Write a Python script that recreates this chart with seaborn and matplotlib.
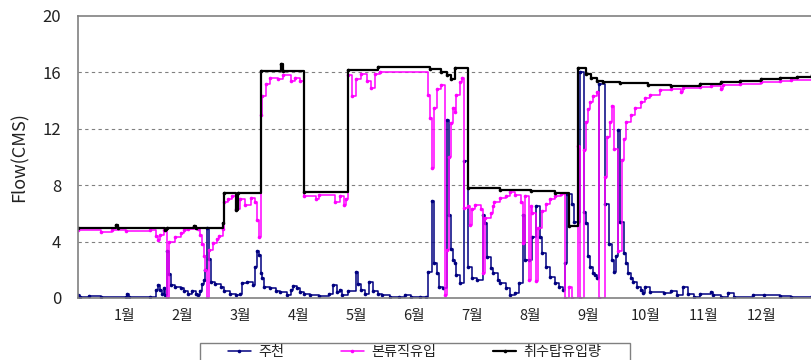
import matplotlib
matplotlib.use("Agg")
import matplotlib.pyplot as plt
from matplotlib.patches import Rectangle
import seaborn as sns
import pandas as pd

# ---------------- data (day index, flow in CMS) ----------------
month_labels = ["1월", "2월", "3월", "4월", "5월", "6월", "7월", "8월", "9월", "10월", "11월", "12월"]
series_names = ["주천", "본류직유입", "취수탑유입량"]

jucheon_days = [0, 1, 6, 12, 25, 26, 27, 38, 41, 42, 43, 44, 45, 46, 47, 48, 49, 51, 54, 56, 58, 60, 62, 63,
                64, 65, 66, 67, 68, 69, 70, 72, 75, 77, 80, 83, 85, 86, 89, 92, 93, 94, 95, 96, 97, 98, 101,
                104, 106, 110, 112, 113, 115, 117, 119, 122, 127, 132, 134, 136, 138, 139, 142, 146, 147, 149,
                151, 153, 155, 158, 160, 164, 169, 172, 175, 180, 183, 184, 186, 187, 189, 190, 192, 194, 195,
                196, 197, 198, 199, 201, 203, 205, 207, 210, 213, 214, 215, 217, 218, 221, 222, 225, 227, 230,
                232, 234, 235, 237, 239, 241, 243, 244, 246, 248, 251, 253, 255, 256, 257, 260, 261, 263, 264,
                266, 267, 268, 269, 271, 272, 273, 274, 277, 279, 281, 282, 283, 284, 285, 287, 288, 289, 291,
                292, 294, 296, 297, 298, 301, 308, 312, 315, 318, 321, 324, 327, 333, 334, 338, 342, 345, 355,
                361, 369, 375, 386]
jucheon_vals = [0.2, 0.1, 0.15, 0.05, 0.1, 0.25, 0.05, 0.1, 0.6, 0.9, 0.6, 0.3, 0.7, 0.2, 3.3, 1.7, 0.9, 0.8,
                0.7, 0.5, 0.3, 0.5, 0.3, 0.2, 0.5, 1.0, 1.3, 2.0, 5.0, 2.8, 1.15, 1.0, 0.8, 0.5, 0.3, 0.2, 0.3,
                1.05, 1.1, 0.9, 2.2, 3.3, 3.05, 1.75, 1.4, 0.8, 0.7, 0.5, 0.4, 0.2, 0.6, 0.85, 0.7, 0.4, 0.25,
                0.2, 0.15, 0.3, 0.9, 0.4, 0.6, 0.2, 0.5, 1.85, 1.0, 0.6, 0.3, 1.1, 0.5, 0.3, 0.2, 0.1, 0.05,
                0.2, 0.1, 0.05, 0.1, 1.85, 6.9, 2.5, 1.8, 0.8, 0.7, 12.6, 5.9, 3.5, 2.7, 2.5, 1.6, 1.05, 9.7,
                2.2, 1.4, 1.3, 5.9, 5.3, 2.9, 2.1, 1.8, 1.3, 1.05, 0.7, 0.2, 0.35, 1.05, 5.9, 2.7, 2.7, 4.3,
                6.5, 4.3, 3.2, 2.2, 1.5, 1.05, 0.8, 0.55, 2.5, 7.4, 6.7, 5.4, 5.4, 16.0, 6.1, 5.3, 3.0, 2.2,
                1.8, 1.6, 1.4, 15.2, 6.7, 3.8, 2.7, 1.85, 3.0, 11.9, 5.4, 3.2, 2.5, 1.8, 1.4, 1.1, 0.8, 0.55,
                0.35, 0.8, 0.4, 0.35, 0.5, 0.2, 0.8, 0.3, 0.1, 0.3, 0.4, 0.2, 0.1, 0.35, 0.1, 0.2, 0.2, 0.15,
                0.1, 0.15]

bonryu_days = [0, 12, 18, 25, 38, 41, 42, 43, 45, 46, 47, 48, 51, 54, 56, 58, 63, 64, 65, 66, 67, 68, 69, 71,
               73, 74, 76, 77, 79, 81, 83, 85, 88, 91, 93, 94, 95, 96, 97, 99, 101, 105, 108, 112, 114, 117,
               119, 125, 127, 135, 138, 140, 141, 142, 144, 146, 149, 152, 154, 156, 159, 184, 185, 186, 187,
               189, 191, 193, 194, 195, 196, 197, 198, 199, 201, 202, 203, 205, 206, 207, 209, 212, 213, 214,
               217, 218, 219, 222, 225, 227, 230, 233, 234, 235, 237, 238, 239, 241, 242, 244, 246, 248, 251,
               254, 256, 258, 260, 263, 264, 266, 267, 268, 269, 271, 273, 274, 277, 278, 280, 281, 282, 284,
               286, 287, 288, 291, 293, 296, 298, 301, 306, 312, 317, 318, 327, 333, 338, 339, 348, 359, 369,
               375, 386]
bonryu_vals = [4.8, 4.7, 4.85, 4.75, 4.8, 4.4, 4.1, 4.5, 4.8, 4.9, 0.0, 4.0, 4.3, 4.6, 4.8, 4.9, 4.9, 4.5, 3.8,
               3.0, 2.0, 0.0, 3.4, 3.9, 4.2, 4.4, 4.9, 6.8, 7.0, 7.2, 6.3, 7.0, 6.6, 7.1, 6.8, 5.5, 4.3, 13.0,
               14.3, 15.2, 15.6, 15.5, 15.8, 15.4, 15.6, 15.4, 7.2, 7.0, 7.3, 6.8, 7.2, 6.6, 7.0, 15.8, 14.3,
               15.5, 15.9, 15.4, 14.9, 15.9, 16.0, 14.4, 12.8, 9.2, 13.5, 14.8, 15.1, 0.2, 3.4, 10.0, 12.4,
               13.5, 13.2, 14.4, 15.3, 15.6, 6.4, 6.5, 5.2, 6.3, 6.6, 6.3, 1.8, 5.7, 6.0, 6.5, 6.8, 7.1, 7.2,
               7.5, 7.3, 6.8, 3.9, 7.2, 1.3, 6.5, 6.0, 1.2, 5.0, 6.2, 6.7, 7.0, 7.2, 7.4, 0.0, 0.8, 0.0, 10.8,
               0.0, 10.5, 12.5, 13.4, 13.9, 14.3, 14.6, 0.0, 8.6, 11.4, 12.5, 13.6, 10.6, 3.3, 9.8, 11.3, 12.5,
               13.0, 13.5, 13.9, 14.2, 14.4, 14.75, 14.8, 14.6, 14.9, 14.95, 15.0, 14.8, 15.1, 15.15, 15.3,
               15.4, 15.45, 15.5]

intake_days = [0, 20, 21, 46, 47, 61, 62, 76, 77, 83, 84, 96, 107, 108, 119, 142, 158, 185, 191, 194, 196, 198,
               205, 222, 238, 251, 258, 263, 267, 270, 273, 276, 285, 300, 312, 327, 338, 348, 359, 369, 378, 386]
intake_vals = [5.0, 5.15, 4.95, 4.85, 5.0, 5.1, 5.0, 5.3, 7.45, 6.25, 7.45, 16.1, 16.6, 16.1, 7.5, 16.2, 16.35,
               16.25, 16.0, 15.8, 15.5, 16.3, 7.8, 7.65, 7.6, 7.45, 5.1, 16.3, 15.9, 15.6, 15.4, 15.3, 15.25,
               15.1, 15.0, 15.15, 15.3, 15.4, 15.5, 15.6, 15.7, 15.8]

y_ticks = [0, 4, 8, 12, 16, 20]

# ---------------- styling ----------------
sns.set_theme(style="white")
plt.rcParams["font.family"] = ["Noto Sans CJK KR", "DejaVu Sans"]

W, H = 812, 360
fig = plt.figure(figsize=(W / 100, H / 100), dpi=100)
fig.patch.set_facecolor("white")
ax = fig.add_axes([78 / W, (H - 298) / H, (W - 78) / W, (298 - 16) / H])
ax.set_facecolor("white")

colors = ["#000080", "#FF00FF", "#000000"]
widths = [1.1, 1.1, 1.6]
frames = [
    pd.DataFrame({"day": jucheon_days, "flow": jucheon_vals}),
    pd.DataFrame({"day": bonryu_days, "flow": bonryu_vals}),
    pd.DataFrame({"day": intake_days, "flow": intake_vals}),
]
for df, name, c, lw in zip(frames, series_names, colors, widths):
    sns.lineplot(data=df, x="day", y="flow", ax=ax, color=c, linewidth=lw,
                 drawstyle="steps-post", marker="o", markersize=2.6, markeredgewidth=0,
                 estimator=None, label=name)

ax.set_xlim(0, 386)
ax.set_ylim(0, 20)
ax.set_yticks(y_ticks)
ax.set_yticklabels([str(t) for t in y_ticks], fontsize=12, color="#222222")
for t in y_ticks[1:-1]:
    ax.axhline(t, color="#808080", linewidth=0.8, linestyle=(0, (3, 3)), zorder=0)

# month labels (mid-month) and minor tick marks
month_pos = [24.5 + 30.45 * i for i in range(12)]
ax.set_xticks(month_pos)
ax.set_xticklabels(month_labels, fontsize=10.5, color="#222222")
ax.tick_params(axis="x", which="major", length=0, pad=8)
ax.tick_params(axis="y", which="major", length=0, pad=12)
ax.set_xticks([97.5, 195, 292.5], minor=True)
ax.tick_params(axis="x", which="minor", direction="in", length=5, width=1, color="#808080")

ax.set_xlabel("")
ax.set_ylabel("Flow(CMS)", fontsize=13, color="#222222", labelpad=10)

for side in ["left", "bottom", "top"]:
    ax.spines[side].set_color("#808080")
    ax.spines[side].set_linewidth(1.2)
ax.spines["right"].set_visible(False)

handles, labels = ax.get_legend_handles_labels()
ax.get_legend().remove()
# legend frame (box partly below the figure edge, as in the reference)
fig.patches.append(Rectangle((200 / W, 1 - 375 / H), 430 / W, 32 / H, transform=fig.transFigure,
                             facecolor="white", edgecolor="#808080", linewidth=1.0, zorder=1))
leg = fig.legend(handles, labels, loc="center left", bbox_to_anchor=(228 / W, 1 - 352 / H),
                 ncol=3, frameon=False, fontsize=10.2, handlelength=1.6, columnspacing=4.0,
                 handletextpad=0.55, borderpad=0.0, borderaxespad=0.0)
for txt in leg.get_texts():
    txt.set_color("#222222")
leg.set_zorder(2)

fig.savefig("out.png", dpi=100, facecolor="white")
